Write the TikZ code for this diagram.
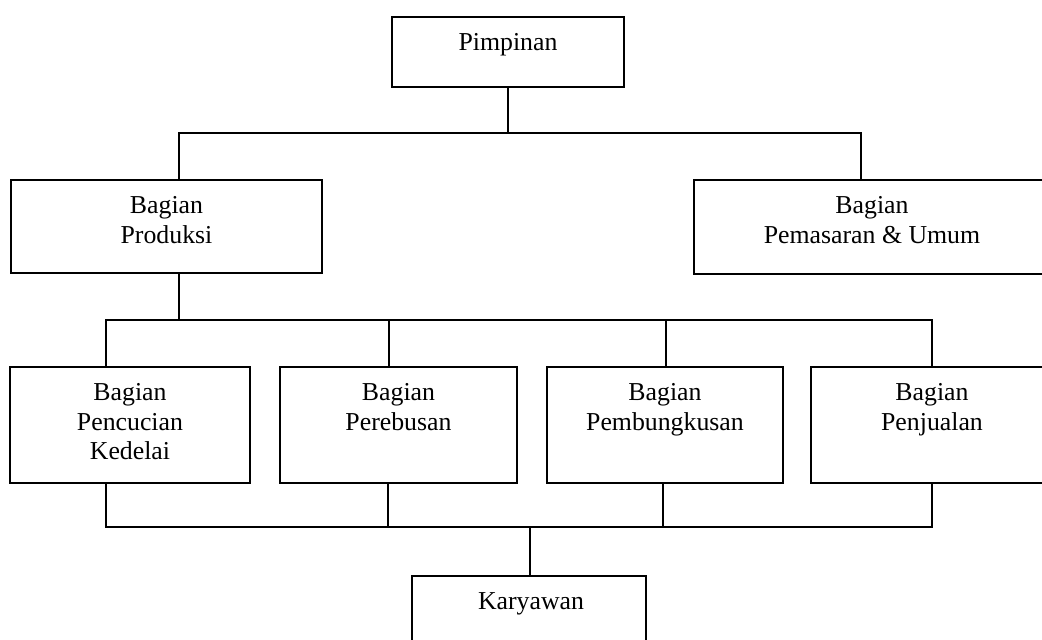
\documentclass[tikz,border=0pt]{standalone}
\usepackage{fontspec}
\setmainfont{Liberation Serif}
\tikzset{
  unit/.style={draw, line width=2.6pt, inner sep=0pt},
  caption/.style={anchor=north, align=center, inner sep=0pt, yshift=-18pt, font=\fontsize{25.8}{29.5}\selectfont},
  link/.style={line width=2.6pt, line join=miter}
}
\begin{document}
\begin{tikzpicture}[x=1pt, y=-1pt]
			\useasboundingbox (0,0) rectangle (1042,640);
			\clip (0,0) rectangle (1042,640);
			% boxes
			\node [unit, minimum width=232, minimum height=70] (pim) at (508,52) {};
			\node [unit, minimum width=311, minimum height=93] (prod) at (166.5,226.5) {};
			\node [unit, minimum width=358, minimum height=94] (pem) at (873,227) {};
			\node [unit, minimum width=240, minimum height=116] (cuci) at (130,425) {};
			\node [unit, minimum width=237, minimum height=116] (rebus) at (398.5,425) {};
			\node [unit, minimum width=236, minimum height=116] (bungkus) at (665,425) {};
			\node [unit, minimum width=242, minimum height=116] (jual) at (932,425) {};
			\node [unit, minimum width=234, minimum height=76] (kary) at (529,614) {};
			% texts
			\node [caption] (pimtext) at (pim.north) {Pimpinan};
			\node [caption] (prodtext) at (prod.north) {Bagian\\Produksi};
			\node [caption] (pemtext) at ([xshift=-1pt]pem.north) {Bagian\\Pemasaran \& Umum};
			\node [caption] (cucitext) at (cuci.north) {Bagian\\Pencucian\\Kedelai};
			\node [caption] (rebustext) at (rebus.north) {Bagian\\Perebusan};
			\node [caption] (bungkustext) at (bungkus.north) {Bagian\\Pembungkusan};
			\node [caption] (jualtext) at (jual.north) {Bagian\\Penjualan};
			\node [caption] (karytext) at ([xshift=2pt]kary.north) {Karyawan};
			% bus points
			\coordinate (b1l) at (179,133);
			\coordinate (b1r) at (861,133);
			\coordinate (b2l) at (106,320);
			\coordinate (b2a) at (389,320);
			\coordinate (b2b) at (666,320);
			\coordinate (b2r) at (932,320);
			\coordinate (b3l) at (106,527);
			\coordinate (b3a) at (388,527);
			\coordinate (b3k) at (530,527);
			\coordinate (b3b) at (663,527);
			\coordinate (b3r) at (932,527);
			% connectors
			\draw [link] (pim.south) -- (pim.south |- b1l);
			\draw [link] (b1l |- prod.north) -- (b1l) -- (b1r) -- (b1r |- pem.north);
			\draw [link] (b1l |- prod.south) -- (b1l |- b2l);
			\draw [link] (b2l |- cuci.north) -- (b2l) -- (b2r) -- (b2r |- jual.north);
			\draw [link] (b2a) -- (b2a |- rebus.north);
			\draw [link] (b2b) -- (b2b |- bungkus.north);
			\draw [link] (b3l |- cuci.south) -- (b3l) -- (b3r) -- (b3r |- jual.south);
			\draw [link] (b3a |- rebus.south) -- (b3a);
			\draw [link] (b3b |- bungkus.south) -- (b3b);
			\draw [link] (b3k) -- (b3k |- kary.north);
		\end{tikzpicture}
\end{document}
